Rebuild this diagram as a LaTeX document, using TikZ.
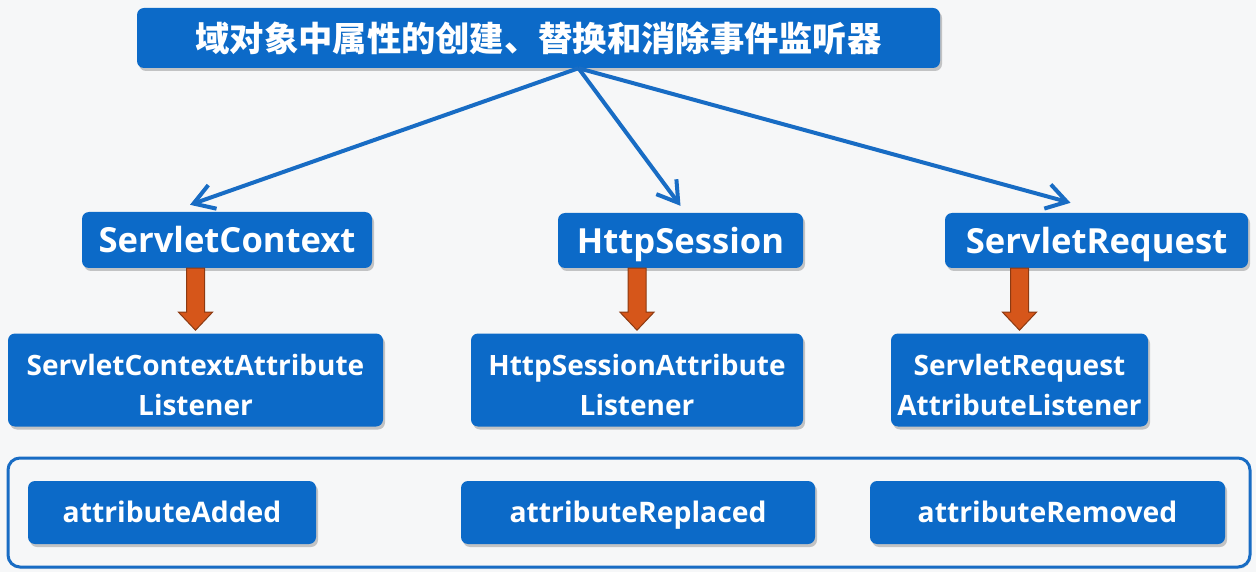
\documentclass[tikz,border=0pt]{standalone}
\usepackage{fontspec}
\setmainfont{Open Sans}
\newfontfamily\cjk{Noto Sans CJK SC}
\usepackage{tikz}
\usetikzlibrary{arrows.meta, positioning, shadows}

\definecolor{boxblue}{RGB}{12,106,200}
\definecolor{lineblue}{RGB}{24,108,196}
\definecolor{arrorange}{RGB}{214,86,26}
\definecolor{arrdark}{RGB}{140,58,18}
\definecolor{bggray}{RGB}{246,247,248}

\begin{document}
\begin{tikzpicture}[
    box/.style={fill=boxblue, text=white, rounded corners=7pt,
                inner sep=0pt, align=center, font=\bfseries,
                drop shadow={shadow xshift=2pt, shadow yshift=-3pt,
                             opacity=0.3, fill=black!70}},
    big/.style={box, text height=26pt, text depth=0pt,
                font=\bfseries\fontsize{34.6}{40}\selectfont},
    small/.style={box, text height=70pt, text depth=0pt,
                  font=\bfseries\fontsize{28}{40}\selectfont},
    evt/.style={box, text height=20.5pt, text depth=0pt,
                font=\bfseries\fontsize{28.3}{34}\selectfont},
    arr/.style={-{Straight Barb[length=20pt, width=25pt]},
                line width=4pt, lineblue},
    bigarr/.style={fill=arrorange, draw=arrdark, line width=1pt},
    x=1pt, y=-1pt
  ]
  \fill[bggray] (0,0) rectangle (1256,572);
  \useasboundingbox (0,0) rectangle (1256,572);

  \node[box, minimum width=803pt, minimum height=60pt,
    font=\cjk\bfseries\fontsize{34.3}{40}\selectfont] (title) at (538.5, 38)
    {域对象中属性的创建、替换和消除事件监听器};

  \node[big, minimum width=290pt, minimum height=56pt] (ctx) at (227, 240)
    {ServletContext};
  \node[big, minimum width=245pt, minimum height=55pt] (sess) at (680.5, 240.5)
    {HttpSession};
  \node[big, minimum width=303pt, minimum height=55pt] (req) at (1096.5, 240.5)
    {ServletRequest};

  \node[small, minimum width=375pt, minimum height=93pt] (ctxl) at (195.5, 380)
    {ServletContextAttribute\\Listener};
  \node[small, minimum width=332pt, minimum height=93pt] (sessl) at (637, 380)
    {HttpSessionAttribute\\Listener};
  \node[small, minimum width=257pt, minimum height=93pt] (reql) at (1019.5, 380)
    {ServletRequest\\AttributeListener};

  % events frame
  \node[draw=lineblue, fill=bggray, line width=3pt, rounded corners=12pt,
    minimum width=1242pt, minimum height=109pt,
    drop shadow={shadow xshift=1pt, shadow yshift=-2pt, opacity=0.2}]
    (events) at (629, 512.5) {};
  \node[evt, minimum width=288pt, minimum height=63pt] (add) at (172, 512.5)
    {attributeAdded};
  \node[evt, minimum width=354pt, minimum height=63pt] (rep) at (638, 512.5)
    {attributeReplaced};
  \node[evt, minimum width=355pt, minimum height=63pt] (rem) at (1047.5, 512.5)
    {attributeRemoved};

  \coordinate (fork) at ([xshift=40pt]title.south);
  \draw[arr] (fork) -- ([xshift=-37pt, yshift=7pt]ctx.north);
  \draw[arr] (fork) -- ([yshift=7pt]sess.north);
  \draw[arr] (fork) -- ([xshift=-26pt, yshift=10pt]req.north);

  % block arrows
  \foreach \up/\down in {ctx/ctxl, sess/sessl, req/reql}
    \draw[bigarr] (\up.south -| \down.north) ++(-9,0) -- ++(0,44)
      -- ++(-8,0) -- ++(17,18) -- ++(17,-18) -- ++(-8,0) -- ++(0,-44) -- cycle;
\end{tikzpicture}
\end{document}
